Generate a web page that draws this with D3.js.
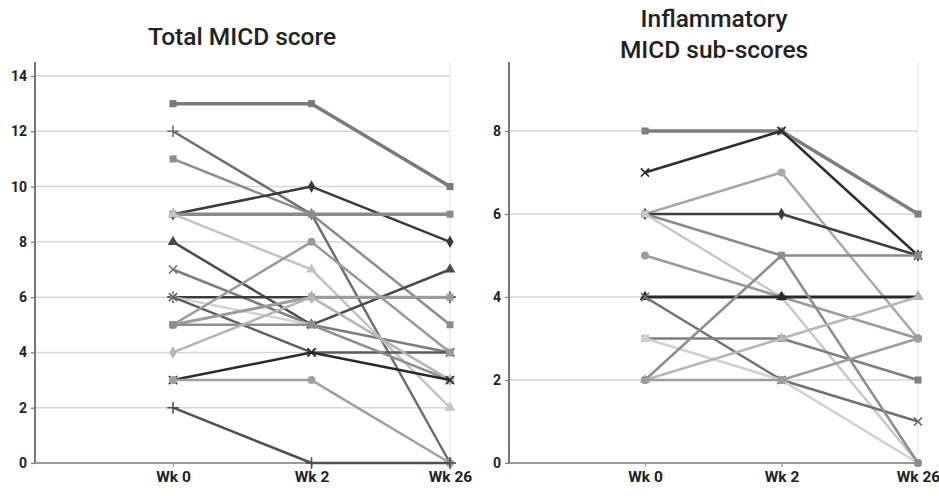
<!DOCTYPE html>
<html>
<head>
<meta charset="utf-8">
<script src="https://cdn.jsdelivr.net/npm/d3@7"></script>
<style>
  html, body { margin: 0; padding: 0; background: #fff; }
  svg { display: block; }
  .title { font-family: Roboto, "Open Sans", sans-serif; font-weight: 500; font-size: 24.5px; fill: #222; }
  .tick text { font-family: Roboto, "Open Sans", sans-serif; font-weight: 700; font-size: 14px; fill: #222; }
  .xaxis .tick text { font-size: 15.5px; }
</style>
</head>
<body>
<svg id="chart" width="939" height="496"></svg>
<script>
// Visits on the x axis
const weeks = ["Wk 0", "Wk 2", "Wk 26"];

// Tick labels
const totalTicks = [0, 2, 4, 6, 8, 10, 12, 14];
const inflTicks = [0, 2, 4, 6, 8];

// Total MICD score per patient at Wk 0, Wk 2, Wk 26
const totalScores = [
  [13, 13, 10],
  [12, 9, 0],
  [11, 9, 5],
  [9, 10, 8],
  [9, 9, 9],
  [9, 7, 2],
  [8, 5, 7],
  [7, 5, 4],
  [6, 6, 6],
  [6, 5, 3],
  [6, 4, 4],
  [5, 8, 4],
  [5, 6, 6],
  [5, 5, 3],
  [4, 6, 3],
  [3, 4, 3],
  [3, 3, 0],
  [2, 0, 0]
];

// Inflammatory MICD sub-scores per patient at Wk 0, Wk 2, Wk 26
const inflScores = [
  [8, 8, 6],
  [7, 8, 5],
  [6, 7, 3],
  [6, 6, 5],
  [6, 5, 5],
  [6, 4, 0],
  [5, 4, 3],
  [4, 4, 4],
  [4, 2, 1],
  [3, 3, 2],
  [3, 2, 0],
  [2, 5, 0],
  [2, 3, 4],
  [2, 2, 3]
];

// Per-line appearance: grey shade, marker, stroke width
const totalStyle = [
  ["#7a7a7a", "square", 3.5], ["#6e6e6e", "plus", 2.5], ["#8c8c8c", "square", 2.5],
  ["#3a3a3a", "diamond", 2.5], ["#8a8a8a", "square", 3.5], ["#c4c4c4", "triangle", 2.5],
  ["#4a4a4a", "triangle", 2.5], ["#7c7c7c", "times", 2.5], ["#3c3c3c", "plus", 2.5],
  ["#d2d2d2", "asterisk", 2.5], ["#5c5c5c", "times", 2.5], ["#9a9a9a", "circle", 2.5],
  ["#9c9c9c", "square", 3], ["#8e8e8e", "square", 2.5], ["#b4b4b4", "diamond", 2.5],
  ["#2a2a2a", "times", 2.5], ["#a0a0a0", "circle", 2.5], ["#505050", "plus", 2.5]
];
const inflStyle = [
  ["#7e7e7e", "square", 3.5], ["#2e2e2e", "times", 2.5], ["#a8a8a8", "circle", 2.5],
  ["#3e3e3e", "diamond", 2.5], ["#8a8a8a", "square", 2.5], ["#c8c8c8", "square", 2.5],
  ["#9a9a9a", "circle", 2.5], ["#2a2a2a", "triangle", 3], ["#707070", "times", 2.5],
  ["#7e7e7e", "square", 2.5], ["#d0d0d0", "circle", 2.5], ["#8e8e8e", "circle", 2.5],
  ["#b6b6b6", "triangle", 2.5], ["#9c9c9c", "circle", 2.5]
];

const symbolTypes = {
  square: [d3.symbolSquare, true, 50],
  circle: [d3.symbolCircle, true, 50],
  diamond: [d3.symbolDiamond, true, 45],
  triangle: [d3.symbolTriangle, true, 50],
  times: [d3.symbolTimes, false, 45],
  plus: [d3.symbolPlus, false, 45],
  asterisk: [d3.symbolAsterisk, false, 45]
};

const svg = d3.select("#chart");

function panel(opts) {
  const g = svg.append("g");
  const x = d3.scalePoint().domain(weeks).range([opts.x0, opts.x1]);
  const y = d3.scaleLinear().domain([0, opts.ticks[opts.ticks.length - 1]])
    .range([opts.bottom, opts.topTick]);

  // horizontal gridlines
  g.append("g").selectAll("line").data(opts.ticks.filter(t => t > 0)).join("line")
    .attr("x1", opts.left).attr("x2", opts.x1)
    .attr("y1", d => y(d)).attr("y2", d => y(d))
    .attr("stroke", "#d6d6d6").attr("stroke-width", 1.5);

  // right frame edge
  g.append("line")
    .attr("x1", opts.x1).attr("x2", opts.x1)
    .attr("y1", opts.top).attr("y2", opts.bottom)
    .attr("stroke", "#ececec").attr("stroke-width", 1.5);

  // x axis along zero
  const xAxis = g.append("g").attr("class", "xaxis").attr("transform", `translate(0,${opts.bottom})`)
    .call(d3.axisBottom(x).tickSize(4).tickPadding(4));
  xAxis.select(".domain").remove();
  xAxis.selectAll(".tick line").attr("stroke", "#999").attr("stroke-width", 1.2);
  g.append("line")
    .attr("x1", opts.left).attr("x2", opts.x1)
    .attr("y1", opts.bottom).attr("y2", opts.bottom)
    .attr("stroke", "#9a9a9a").attr("stroke-width", 2);

  // y axis
  const yAxis = g.append("g").attr("transform", `translate(${opts.left},0)`)
    .call(d3.axisLeft(y).tickValues(opts.showTickLabels).tickSize(4).tickPadding(4));
  yAxis.select(".domain").remove();
  yAxis.selectAll(".tick line").attr("stroke", "#777").attr("stroke-width", 1.2);
  g.append("line")
    .attr("x1", opts.left).attr("x2", opts.left)
    .attr("y1", opts.top).attr("y2", opts.bottom)
    .attr("stroke", "#777").attr("stroke-width", 2);

  // patient trajectories
  const line = d3.line().x((d, i) => x(weeks[i])).y(d => y(d));
  const series = g.append("g").selectAll("g").data(opts.data).join("g");
  series.append("path")
    .attr("d", d => line(d))
    .attr("fill", "none")
    .attr("stroke", (d, i) => opts.style[i][0])
    .attr("stroke-width", (d, i) => opts.style[i][2])
    .attr("stroke-linejoin", "round");
  series.each(function (d, i) {
    const [shade, kind] = opts.style[i];
    const [type, filled, size] = symbolTypes[kind];
    d3.select(this).selectAll("path.marker").data(d).join("path")
      .attr("class", "marker")
      .attr("transform", (v, j) => `translate(${x(weeks[j])},${y(v)})`)
      .attr("d", d3.symbol(type, size))
      .attr("fill", filled ? shade : "none")
      .attr("stroke", shade)
      .attr("stroke-width", filled ? 0 : 1.6);
  });

  // title
  const t = g.append("text").attr("class", "title").attr("text-anchor", "middle");
  opts.title.forEach((s, k) => {
    t.append("tspan").attr("x", opts.titleX).attr("y", opts.titleY + k * 31).text(s);
  });
}

panel({
  data: totalScores, style: totalStyle, ticks: totalTicks, showTickLabels: totalTicks,
  left: 35, x0: 173, x1: 450, top: 62, topTick: 76, bottom: 463,
  title: ["Total MICD score"], titleX: 242, titleY: 45
});

panel({
  data: inflScores, style: inflStyle, ticks: inflTicks, showTickLabels: inflTicks,
  left: 509, x0: 645, x1: 918, top: 62, topTick: 131, bottom: 463,
  title: ["Inflammatory", "MICD sub-scores"], titleX: 714, titleY: 27
});
</script>
</body>
</html>
